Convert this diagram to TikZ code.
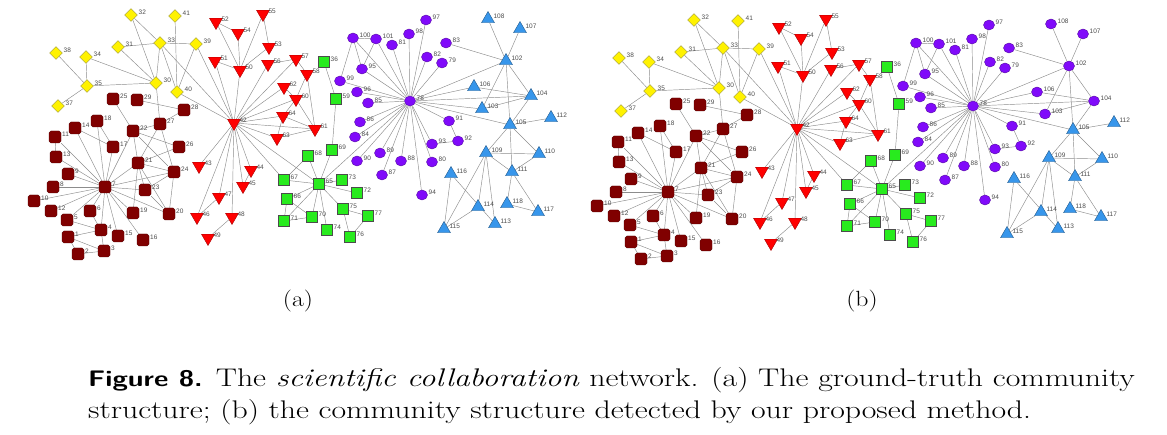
\documentclass[tikz,border=0pt]{standalone}
\usepackage{fontspec}
\newfontfamily\labelfont{Liberation Sans}
\usetikzlibrary{shapes.geometric,backgrounds}
\definecolor{maroonnode}{RGB}{128,0,0}
\definecolor{limenode}{RGB}{40,235,30}
\definecolor{violetnode}{RGB}{128,10,250}
\definecolor{bluenode}{RGB}{55,150,235}
\tikzset{
  edge/.style={draw=gray!90, line width=0.45pt},
  lbl/.style={font=\labelfont\fontsize{6.5}{7}\selectfont, text=black!70, inner sep=0.8pt, yshift=2.5pt},
  member/.style={inner sep=0pt, line width=0.4pt, label={[lbl]0:#1}},
  brownbox/.style={rectangle, rounded corners=1.8pt, minimum size=12pt, fill=maroonnode, draw=maroonnode!65!black},
  yellowdiam/.style={diamond, minimum size=13pt, fill=yellow, draw=yellow!55!black},
  redtri/.style={regular polygon, regular polygon sides=3, shape border rotate=180, minimum size=15pt, fill=red, draw=red!65!black},
  greenbox/.style={rectangle, minimum size=11pt, fill=limenode, draw=black!70},
  violetdot/.style={ellipse, minimum width=11pt, minimum height=10pt, fill=violetnode, draw=violetnode!65!black},
  bluetri/.style={regular polygon, regular polygon sides=3, minimum size=15pt, fill=bluenode, draw=bluenode!60!black}
}
\begin{document}
\begin{tikzpicture}[x=1pt,y=-1pt]
\useasboundingbox (0,0) rectangle (1167,435);
% the same network twice: ground truth (a) and detected communities (b)
\foreach \p/\dx/\dy/\ringstyle in {a/0/0/bluetri,b/563/5/violetdot} {
\begin{scope}[shift={(\dx,\dy)}]
  \foreach \n/\x/\y in {1/68/237,2/78/254,3/104/251,4/101/230,5/67/220,6/90/211,7/105/187,8/53/187,
      9/68/174,10/34/201,11/55/137,12/51/211,13/56/157,14/75/128,15/118/236,16/143/240,17/113/147,
      18/97/121,19/133/213,20/169/214,21/138/163,22/133/131,23/145/190,24/174/172,25/113/99,
      26/179/147,27/160/124,28/184/110,29/137/100}
    \node[brownbox,member=\n] (\p\n) at (\x,\y) {};
  \foreach \n/\x/\y in {30/156/83,31/118/47,32/131/15,33/160/43,34/86/57,35/87/86,37/58/106,
      38/56/53,39/196/44,40/177/92,41/175/16}
    \node[yellowdiam,member=\n] (\p\n) at (\x,\y) {};
  \foreach \n/\x/\y in {42/234/123,43/199/166,44/251/170,45/243/186,46/197/217,47/219/197,
      48/232/217,49/208/238,50/240/70,51/215/61,52/216/22,53/269/47,54/238/33,55/263/14,
      56/268/64,57/296/59,58/307/74,60/296/99,61/315/129,62/284/87,63/277/138,64/283/116}
    \node[redtri,member=\n] (\p\n) at (\x,\y) {};
  \foreach \n/\x/\y in {36/324/62,59/336/99,65/319/184,66/287/199,67/284/180,68/308/156,
      69/332/150,70/312/217,71/284/221,72/357/193,73/342/180,74/327/230,75/343/209,76/350/237,77/368/216}
    \node[greenbox,member=\n] (\p\n) at (\x,\y) {};
  \foreach \n/\x/\y in {78/410/101,79/442/63,80/432/162,81/392/45,82/427/57,83/446/43,84/355/137,
      85/368/103,86/360/122,87/382/175,88/401/161,89/380/153,90/357/161,91/449/121,92/458/141,
      93/432/144,94/422/195,95/362/69,96/357/92,97/426/20,98/409/34,99/340/81,100/353/38,101/376/39}
    \node[violetdot,member=\n] (\p\n) at (\x,\y) {};
  \foreach \n/\x/\y in {102/506/61,103/482/109,104/531/96,106/474/87,107/520/29,108/488/19}
    \node[\ringstyle,member=\n] (\p\n) at (\x,\y) {};
  \foreach \n/\x/\y in {105/510/125,109/486/153,110/539/154,111/512/172,112/551/118,113/495/224,
      114/478/207,115/444/229,116/451/174,117/538/212,118/507/204}
    \node[bluetri,member=\n] (\p\n) at (\x,\y) {};
  \begin{pgfonlayer}{background}
    \foreach \s/\t in {32/33,32/30,41/40,31/33,31/30,33/39,33/30,33/40,33/42,39/40,39/42,38/35,
        34/35,34/30,35/30,35/37,30/27,40/42,
        25/22,29/28,28/27,27/22,27/21,27/24,22/21,22/26,22/24,22/7,18/7,18/17,14/17,14/7,11/13,
        11/7,13/7,9/7,8/7,10/7,12/7,6/7,6/4,5/7,5/4,4/7,4/1,4/3,1/2,1/3,2/3,15/7,16/7,19/7,20/7,
        23/7,24/7,21/7,17/7,19/21,21/23,21/24,21/20,21/26,23/24,23/20,24/20,
        52/54,52/50,54/50,55/53,55/50,53/50,51/50,51/42,50/42,56/57,56/42,57/58,57/42,58/60,
        58/61,62/42,62/60,60/42,60/64,60/61,64/42,64/63,64/61,63/42,63/61,61/42,42/43,42/44,
        42/45,42/46,42/47,42/48,42/67,42/65,47/46,48/49,44/45,
        36/59,59/69,69/65,68/65,68/67,67/65,66/65,66/70,66/71,71/70,71/65,70/65,74/65,73/65,
        72/65,75/65,75/77,75/76,77/76,65/78,
        100/101,100/99,100/95,100/78,101/95,101/78,81/78,98/78,97/78,82/78,79/78,83/102,99/78,
        96/78,85/78,86/78,84/78,90/78,89/78,87/78,88/78,80/78,93/78,91/78,94/78,93/92,91/92,95/78,
        78/106,78/104,78/103,78/105,78/102,106/104,103/104,103/102,102/104,102/105,102/108,
        102/107,104/105,105/112,105/109,105/110,105/111,109/110,109/111,109/115,109/114,109/113,
        111/110,111/118,111/117,118/117,116/115,116/113,114/115}
      \draw[edge] (\p\s) -- (\p\t);
  \end{pgfonlayer}
\end{scope}
}
\node (suba) at (298,301) {\scalebox{1.17}[1]{\fontsize{22}{26}\selectfont (a)}};
\node (subb) at (862,301) {\scalebox{1.17}[1]{\fontsize{22}{26}\selectfont (b)}};
\node[anchor=base west, inner sep=0pt] (caption) at (88,387)
  {\scalebox{1.246}[1]{\fontsize{25.5}{32}\selectfont\begin{tabular}[t]{@{}l@{}}
   \makebox[840pt][s]{{\fontsize{22.5}{32}\selectfont\sffamily\bfseries Figure 8.} The \textit{scientific collaboration} network. (a) The ground-truth community}\\
   structure; (b) the community structure detected by our proposed method.
   \end{tabular}}};
\end{tikzpicture}
\end{document}
